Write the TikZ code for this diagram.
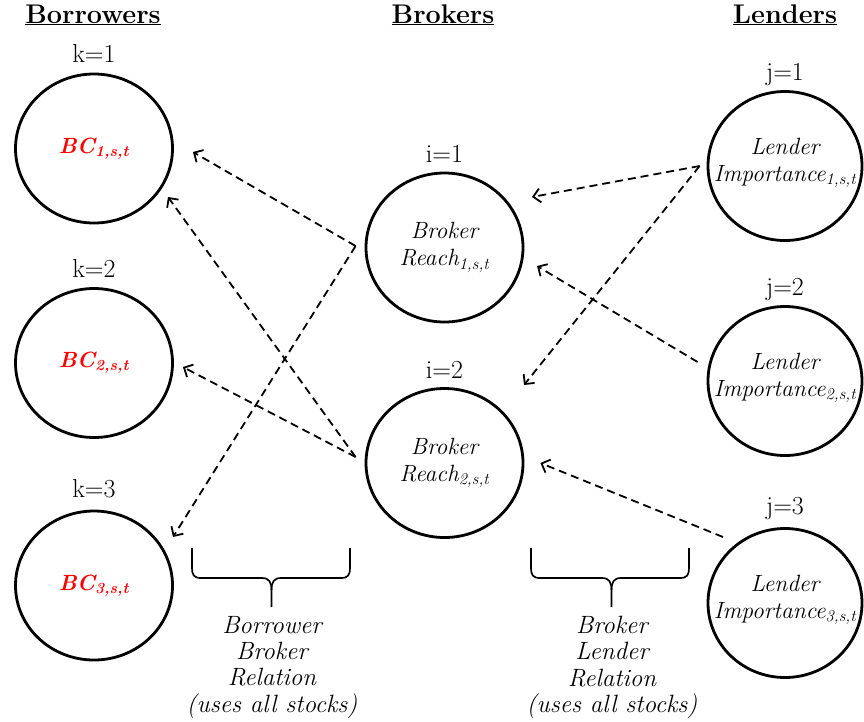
\documentclass[tikz,border=0pt]{standalone}
\usepackage{tikz}
\usetikzlibrary{shapes.geometric,arrows.meta,calc}
\begin{document}
\begin{tikzpicture}[x=1pt,y=-1pt,
  circ/.style={draw,ellipse,line width=2.8pt,minimum width=157pt,minimum height=149pt,inner sep=0pt},
  intext/.style={align=center,inner sep=0pt,font=\fontsize{23.5}{27}\selectfont\itshape},
  bctext/.style={inner sep=0pt,text=red,font=\fontsize{22}{26}\selectfont\bfseries\itshape},
  idx/.style={anchor=base,inner sep=0pt,font=\fontsize{26}{30}\selectfont},
  head/.style={anchor=base,inner sep=0pt,font=\fontsize{27}{32}\selectfont\bfseries},
  reltext/.style={anchor=north,align=center,inner sep=0pt,font=\fontsize{25}{26.3}\selectfont\itshape},
  link/.style={dashed,dash pattern=on 8pt off 5pt,line width=1.8pt,-{Straight Barb[length=7pt,width=14pt]}},
  bracepath/.style={line width=1.7pt}
]
\useasboundingbox (0,0) rectangle (864,721);

% headings
\node[head] (hb) at (93,23) {\underline{Borrowers}};
\node[head] (hk) at (443,23) {\underline{Brokers}};
\node[head] (hl) at (785,23) {\underline{Lenders}};

% borrowers
\node[circ] (bc1) at (94,148.5) {};
\node[circ] (bc2) at (94,363) {};
\node[circ] (bc3) at (94,585.5) {};
\node[bctext] (bc1t) at (bc1) {BC\textsubscript{1,s,t}};
\node[bctext] (bc2t) at (bc2) {BC\textsubscript{2,s,t}};
\node[bctext] (bc3t) at (bc3) {BC\textsubscript{3,s,t}};
\node[idx] (k1) at ($(bc1.north)+(0,-10)$) {k=1};
\node[idx] (k2) at ($(bc2.north)+(0,-10)$) {k=2};
\node[idx] (k3) at ($(bc3.north)+(0,-12)$) {k=3};

% brokers
\node[circ] (i1) at (444.5,247.5) {};
\node[circ] (i2) at (444.5,463) {};
\node[intext] (i1t) at (i1) {Broker\\Reach\textsubscript{1,s,t}};
\node[intext] (i2t) at (i2) {Broker\\Reach\textsubscript{2,s,t}};
\node[idx] (il1) at ($(i1.north)+(0,-9)$) {i=1};
\node[idx] (il2) at ($(i2.north)+(0,-9)$) {i=2};

% lenders
\node[circ,minimum width=154pt] (j1) at (785,166) {};
\node[circ,minimum width=154pt] (j2) at (785,381) {};
\node[circ,minimum width=154pt] (j3) at (785,603) {};
\node[intext] (j1t) at ($(j1)+(0,-3)$) {Lender\\Importance\textsubscript{1,s,t}};
\node[intext] (j2t) at ($(j2)+(0,-3)$) {Lender\\Importance\textsubscript{2,s,t}};
\node[intext] (j3t) at ($(j3)+(0,-3)$) {Lender\\Importance\textsubscript{3,s,t}};
\node[idx] (jl1) at ($(j1.north)+(0,-10)$) {j=1};
\node[idx] (jl2) at ($(j2.north)+(0,-10)$) {j=2};
\node[idx] (jl3) at ($(j3.north)+(0,-13)$) {j=3};

% connector end points
\coordinate (i1o) at ($(i1.west)+(-9,-1.5)$);
\coordinate (i2o) at ($(i2.west)+(-9,-6)$);
\coordinate (j1o) at ($(j1.west)+(-7,0)$);
\coordinate (j2o) at ($(j2.west)+(-9,-19)$);
\coordinate (j3o) at ($(j3)+(-62,-66)$);
\coordinate (bc1a) at ($(bc1.east)+(19,3.5)$);
\coordinate (bc1b) at ($(bc1)+(74,48.5)$);
\coordinate (bc2a) at ($(bc2.east)+(9,4)$);
\coordinate (bc3a) at ($(bc3)+(79,-48.5)$);
\coordinate (i1a) at ($(i1)+(87.5,-50.5)$);
\coordinate (i1b) at ($(i1)+(92.5,18.5)$);
\coordinate (i2a) at ($(i2)+(79.5,-78)$);
\coordinate (i2b) at ($(i2.east)+(16,0)$);

% borrower-broker links
\draw[link] (i1o) -- (bc1a);
\draw[link] (i1o) -- (bc3a);
\draw[link] (i2o) -- (bc2a);
\draw[link] (i2o) -- (bc1b);
% broker-lender links
\draw[link] (j1o) -- (i1a);
\draw[link] (j1o) -- (i2a);
\draw[link] (j2o) -- (i1b);
\draw[link] (j3o) -- (i2b);

% braces
\draw[bracepath] (192,548) -- (192,568) .. controls (192,575) and (194,578) .. (201,578)
  -- (262,578) .. controls (269,578) and (271.5,582) .. (271.5,590) -- (271.5,607);
\draw[bracepath] (350,548) -- (350,568) .. controls (350,575) and (348,578) .. (341,578)
  -- (281,578) .. controls (274,578) and (271.5,582) .. (271.5,590);
\draw[bracepath] (531,548) -- (531,568) .. controls (531,575) and (533,578) .. (540,578)
  -- (602,578) .. controls (609,578) and (611.5,582) .. (611.5,590) -- (611.5,607);
\draw[bracepath] (689,548) -- (689,568) .. controls (689,575) and (687,578) .. (680,578)
  -- (621,578) .. controls (614,578) and (611.5,582) .. (611.5,590);

% relation texts
\node[reltext] (rel1) at (272,616) {Borrower\\Broker\\Relation\\(uses all stocks)};
\node[reltext] (rel2) at (612,616) {Broker\\Lender\\Relation\\(uses all stocks)};
\end{tikzpicture}
\end{document}
